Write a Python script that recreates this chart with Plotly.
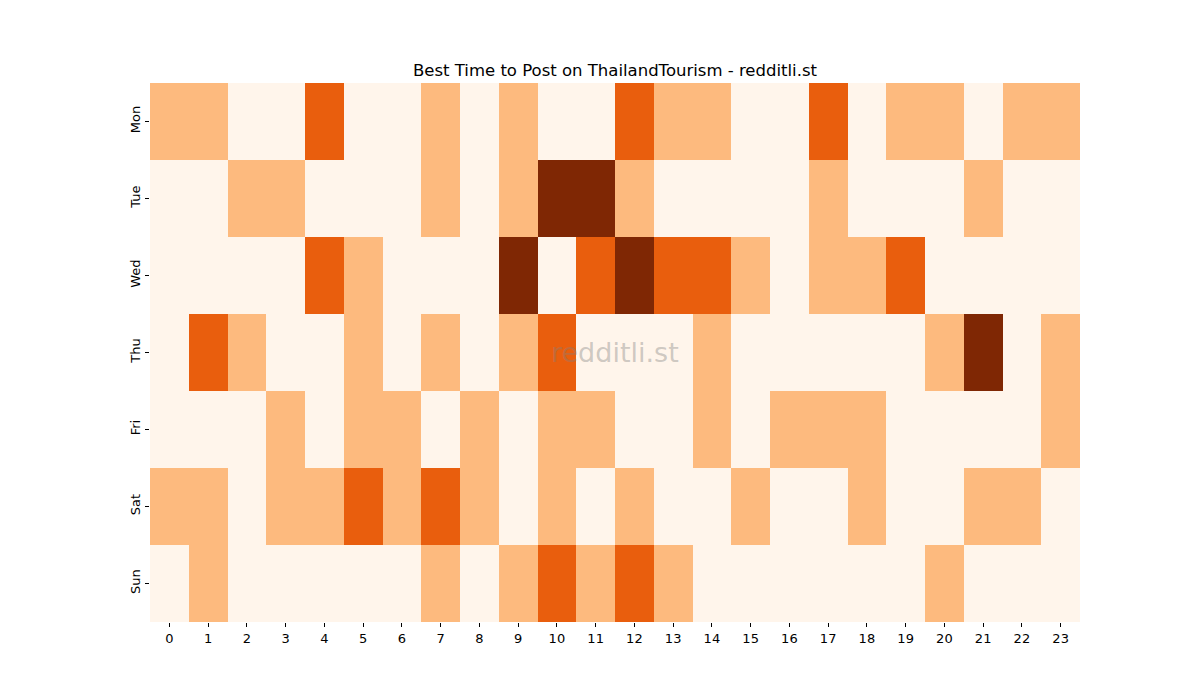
import plotly.graph_objects as go

days = ["Mon", "Tue", "Wed", "Thu", "Fri", "Sat", "Sun"]
hours = list(range(24))

# posting score per day (rows) and hour (columns)
mon = [1, 1, 0, 0, 2, 0, 0, 1, 0, 1, 0, 0, 2, 1, 1, 0, 0, 2, 0, 1, 1, 0, 1, 1]
tue = [0, 0, 1, 1, 0, 0, 0, 1, 0, 1, 3, 3, 1, 0, 0, 0, 0, 1, 0, 0, 0, 1, 0, 0]
wed = [0, 0, 0, 0, 2, 1, 0, 0, 0, 3, 0, 2, 3, 2, 2, 1, 0, 1, 1, 2, 0, 0, 0, 0]
thu = [0, 2, 1, 0, 0, 1, 0, 1, 0, 1, 2, 0, 0, 0, 1, 0, 0, 0, 0, 0, 1, 3, 0, 1]
fri = [0, 0, 0, 1, 0, 1, 1, 0, 1, 0, 1, 1, 0, 0, 1, 0, 1, 1, 1, 0, 0, 0, 0, 1]
sat = [1, 1, 0, 1, 1, 2, 1, 2, 1, 0, 1, 0, 1, 0, 0, 1, 0, 0, 1, 0, 0, 1, 1, 0]
sun = [0, 1, 0, 0, 0, 0, 0, 1, 0, 1, 2, 1, 2, 1, 0, 0, 0, 0, 0, 0, 1, 0, 0, 0]

z = [mon, tue, wed, thu, fri, sat, sun]

# matplotlib "Oranges" sampled at the four levels
oranges = [
    [0.0, "#fff5eb"],
    [1 / 3, "#fdba7e"],
    [2 / 3, "#e95e0d"],
    [1.0, "#7f2704"],
]

fig = go.Figure(go.Heatmap(
    z=z,
    x=hours,
    y=days,
    colorscale=oranges,
    zmin=0,
    zmax=3,
    showscale=False,
))

font = "DejaVu Sans, sans-serif"
# the page body adds an 8px offset, so margins are shifted to compensate
fig.update_layout(
    width=1200,
    height=700,
    paper_bgcolor="white",
    plot_bgcolor="white",
    margin=dict(l=142, r=128, t=75, b=86),
    font=dict(family=font, size=13, color="black"),
    title=dict(
        text="Best Time to Post on ThailandTourism - redditli.st",
        x=607 / 1200,
        xanchor="center",
        y=1 - 62 / 700,
        yanchor="middle",
        font=dict(size=16.5, family=font, color="black"),
    ),
    annotations=[dict(
        text="redditli.st",
        xref="paper", yref="paper",
        x=0.5, y=0.5,
        showarrow=False,
        font=dict(size=27, family=font, color="rgba(128,128,128,0.4)"),
    )],
)
fig.update_xaxes(
    tickmode="array",
    tickvals=hours,
    ticktext=[str(h) for h in hours],
    ticks="outside",
    ticklen=4,
    tickcolor="black",
    showgrid=False,
    zeroline=False,
    range=[-0.5, 23.5],
)
fig.update_yaxes(
    autorange="reversed",
    ticks="outside",
    ticklen=4,
    tickcolor="black",
    tickangle=-90,
    showgrid=False,
    zeroline=False,
)

fig.write_html("out.html")
